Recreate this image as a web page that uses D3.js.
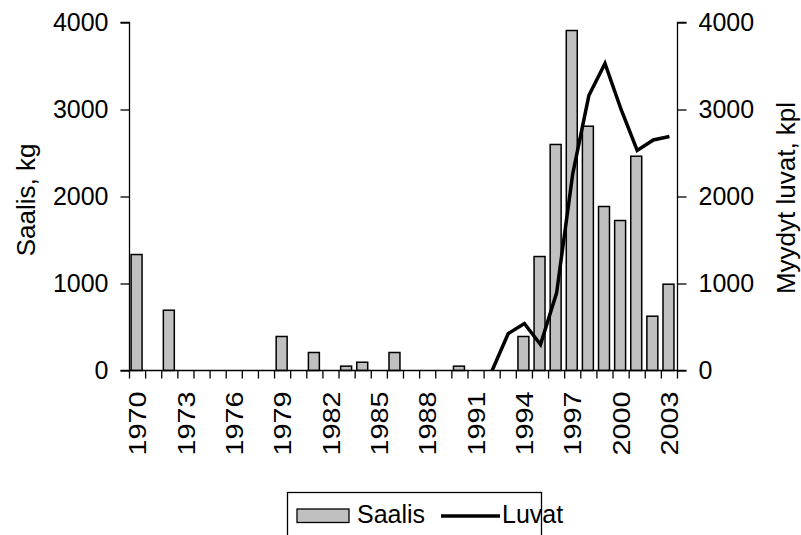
<!DOCTYPE html>
<html>
<head>
<meta charset="utf-8">
<script src="https://cdn.jsdelivr.net/npm/d3@7"></script>
<style>
  body { margin: 0; background: #fff; }
  svg text { font-family: "Liberation Sans", Arial, sans-serif; fill: #000; }
</style>
</head>
<body>
<svg id="chart" width="801" height="535"></svg>
<script>
// years 1970..2003
var years = [1970, 1971, 1972, 1973, 1974, 1975, 1976, 1977, 1978, 1979,
  1980, 1981, 1982, 1983, 1984, 1985, 1986, 1987, 1988, 1989,
  1990, 1991, 1992, 1993, 1994, 1995, 1996, 1997, 1998, 1999,
  2000, 2001, 2002, 2003]

// Saalis, kg
var saalis = [1333, 0, 693, 0, 0, 0, 0, 0, 0, 391,
  0, 207, 0, 50, 95, 0, 207, 0, 0, 0,
  50, 0, 0, 0, 391, 1310, 2598, 3908, 2808, 1885,
  1724, 2463, 624, 992]

// Myydyt luvat, kpl (no data before 1992)
var luvat = [null, null, null, null, null, null, null, null, null, null,
  null, null, null, null, null, null, null, null, null, null,
  null, null, 0, 425, 540, 299, 892, 2260, 3160, 3530,
  3000, 2530, 2650, 2690]

var yTicks = [0, 1000, 2000, 3000, 4000]
var yearLabels = [1970, 1973, 1976, 1979, 1982, 1985, 1988, 1991, 1994, 1997, 2000, 2003]

var svg = d3.select('#chart')
  , plotL = 129.5, plotR = 677.5, plotT = 22.5, plotB = 370.5

var x = d3.scaleBand().domain(years).range([plotL, plotR])
  , bw = x.bandwidth()
var yL = d3.scaleLinear().domain([0, 4000]).range([plotB, plotT])
  , yR = d3.scaleLinear().domain([0, 4000]).range([plotB, plotT])

// bars
svg.append('g').selectAll('rect.bar').data(years.filter(function(d, i) { return saalis[i] > 0 }))
  .enter().append('rect').classed('bar', true)
  .attr('x', function(d) { return x(d) + bw * 0.1 })
  .attr('width', bw * 0.68)
  .attr('y', function(d) { return yL(saalis[years.indexOf(d)]) })
  .attr('height', function(d) { return plotB - yL(saalis[years.indexOf(d)]) })
  .attr('fill', '#c0c0c0')
  .attr('stroke', '#000')
  .attr('stroke-width', 1.5)

// line
var line = d3.line()
  .defined(function(d) { return d != null })
  .x(function(d, i) { return x(years[i]) + bw / 2 })
  .y(function(d) { return yR(d) })

svg.append('path').datum(luvat)
  .attr('d', line)
  .attr('fill', 'none')
  .attr('stroke', '#000')
  .attr('stroke-width', 3.5)

// left axis
var gL = svg.append('g').attr('transform', 'translate(' + plotL + ',0)')
  .call(d3.axisLeft(yL).tickValues(yTicks).tickSize(9).tickPadding(12).tickFormat(d3.format('d')))
gL.select('.domain').attr('d', 'M-9,' + plotT + 'H0V' + plotB + 'H-9').attr('stroke-width', 1.3)
gL.selectAll('line').attr('stroke-width', 1.3)
gL.selectAll('text').style('font-size', '25px')

// right axis
var gR = svg.append('g').attr('transform', 'translate(' + plotR + ',0)')
  .call(d3.axisRight(yR).tickValues(yTicks).tickSize(9).tickPadding(12).tickFormat(d3.format('d')))
gR.select('.domain').attr('d', 'M9,' + plotT + 'H0V' + plotB + 'H9').attr('stroke-width', 1.3)
gR.selectAll('line').attr('stroke-width', 1.3)
gR.selectAll('text').style('font-size', '25px')

// bottom axis: ticks at band boundaries
var gB = svg.append('g')
gB.append('line').attr('x1', plotL).attr('x2', plotR).attr('y1', plotB).attr('y2', plotB)
  .attr('stroke', '#000').attr('stroke-width', 1.3)
gB.selectAll('line.tick').data(years.concat([null]))
  .enter().append('line').classed('tick', true)
  .attr('x1', function(d, i) { return plotL + i * x.step() })
  .attr('x2', function(d, i) { return plotL + i * x.step() })
  .attr('y1', plotB).attr('y2', plotB + 8)
  .attr('stroke', '#000').attr('stroke-width', 1.3)
gB.selectAll('text').data(yearLabels)
  .enter().append('text')
  .attr('transform', function(d) { return 'translate(' + (x(d) + bw / 2) + ',' + (plotB + 21) + ') rotate(-90) scale(1.2,1)' })
  .attr('text-anchor', 'end')
  .attr('dy', '0.36em')
  .style('font-size', '24px')
  .text(function(d) { return d })

// axis titles
svg.append('text')
  .attr('transform', 'translate(26,200) rotate(-90)')
  .attr('text-anchor', 'middle').attr('dy', '0.36em')
  .style('font-size', '26px')
  .text('Saalis, kg')
svg.append('text')
  .attr('transform', 'translate(786,198) rotate(-90)')
  .attr('text-anchor', 'middle').attr('dy', '0.36em')
  .style('font-size', '26px')
  .text('Myydyt luvat, kpl')

// legend
var lg = svg.append('g')
lg.append('rect').attr('x', 287.5).attr('y', 492.5).attr('width', 254).attr('height', 60)
  .attr('fill', '#fff').attr('stroke', '#000').attr('stroke-width', 1.3)
lg.append('rect').attr('x', 297).attr('y', 509).attr('width', 52).attr('height', 13.5)
  .attr('fill', '#c0c0c0').attr('stroke', '#000').attr('stroke-width', 1.3)
lg.append('text').attr('x', 357).attr('y', 522.5).style('font-size', '25px').text('Saalis')
lg.append('line').attr('x1', 441).attr('x2', 500).attr('y1', 516).attr('y2', 516)
  .attr('stroke', '#000').attr('stroke-width', 3.5)
lg.append('text').attr('x', 502).attr('y', 522.5).style('font-size', '25px').text('Luvat')
</script>
</body>
</html>
